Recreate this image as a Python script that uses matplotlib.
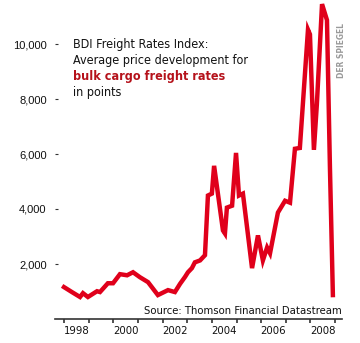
import matplotlib
matplotlib.use("Agg")
import matplotlib.pyplot as plt
from matplotlib import font_manager
from matplotlib.ticker import FixedLocator, FuncFormatter

# Data (year fraction, BDI points)
years = [1998.00, 1998.32, 1998.65, 1998.77, 1998.97, 1999.34, 1999.46, 1999.78,
         1999.99, 2000.27, 2000.56, 2000.80, 2001.08, 2001.41, 2001.81, 2002.22,
         2002.50, 2002.71, 2002.91, 2003.03, 2003.19, 2003.31, 2003.52, 2003.72,
         2003.84, 2004.00, 2004.09, 2004.45, 2004.53, 2004.61, 2004.82, 2004.98,
         2005.10, 2005.26, 2005.63, 2005.87, 2006.07, 2006.24, 2006.36, 2006.68,
         2006.97, 2007.17, 2007.37, 2007.57, 2007.90, 2007.98, 2008.14, 2008.26,
         2008.47, 2008.67, 2008.79, 2008.91]
values = [1160, 980, 800, 940, 800, 1010, 980, 1300,
          1300, 1630, 1590, 1700, 1520, 1340, 870, 1050,
          980, 1280, 1530, 1700, 1850, 2060, 2130, 2320,
          4490, 4560, 5570, 3220, 3110, 4050, 4120, 6040,
          4490, 4560, 1850, 3040, 2130, 2600, 2390, 3870,
          4300, 4230, 6190, 6220, 10520, 10350, 6150, 7810,
          11450, 10870, 5530, 870]

y_ticks = [2000, 4000, 6000, 8000, 10000]
x_tick_years = list(range(1998, 2010))
x_label_years = [1998, 2000, 2002, 2004, 2006, 2008]

title_lines = ["BDI Freight Rates Index:", "Average price development for",
               "bulk cargo freight rates", "in points"]
source_text = "Source: Thomson Financial Datastream"
watermark = "DER SPIEGEL"

# pick a condensed font if one is installed
names = {f.name for f in font_manager.fontManager.ttflist}
if "Liberation Sans Narrow" in names:
    cond = dict(family="Liberation Sans Narrow")
    cond_scale = 1.0
else:
    cond = dict(family="DejaVu Sans", stretch="condensed")
    cond_scale = 0.9

W, H = 360, 343
fig = plt.figure(figsize=(W / 100, H / 100), dpi=100)
ax = fig.add_axes([55 / W, (H - 319) / H, 287 / W, 319 / H])

red = "#e0001b"
dark = "#333333"

ax.plot(years, values, color=red, lw=3.2, solid_joinstyle="miter", clip_on=False, zorder=3)

ax.set_xlim(1997.635, 2009.28)
ax.set_ylim(0, 11600)

for s in ["top", "right", "left"]:
    ax.spines[s].set_visible(False)
ax.spines["bottom"].set_color(dark)
ax.spines["bottom"].set_linewidth(1.2)

ax.yaxis.set_major_locator(FixedLocator(y_ticks))
ax.yaxis.set_major_formatter(FuncFormatter(lambda v, p: f"{int(v):,}"))
ax.tick_params(axis="y", direction="in", length=2.5, width=0.8, color=dark,
               pad=6, labelsize=8, labelcolor="#111111")
for lab in ax.get_yticklabels():
    lab.set_family(["Liberation Sans", "DejaVu Sans"])

ax.xaxis.set_major_locator(FixedLocator(x_tick_years))
ax.xaxis.set_major_formatter(FuncFormatter(lambda v, p: ""))
ax.xaxis.set_minor_locator(FixedLocator([y + 0.5 for y in x_label_years]))
ax.xaxis.set_minor_formatter(FuncFormatter(lambda v, p: f"{int(v)}"))
ax.tick_params(axis="x", which="major", direction="out", length=3, width=1.2, color=dark)
ax.tick_params(axis="x", which="minor", length=0, pad=5, labelcolor="#111111")
for lab in ax.get_xticklabels(minor=True):
    lab.set_fontproperties(font_manager.FontProperties(size=9 * cond_scale, **cond))

baselines = [47.7, 63.7, 79.7, 95.7]
for i, (txt, yb) in enumerate(zip(title_lines, baselines)):
    fig.text(73 / W, 1 - yb / H, txt, ha="left", va="baseline",
             fontproperties=font_manager.FontProperties(
                 size=10 * cond_scale, weight="bold" if i == 2 else "normal", **cond),
             color="#b5121b" if i == 2 else "#111111")

fig.text(342 / W, 1 - 314 / H, source_text, ha="right", va="baseline",
         fontproperties=font_manager.FontProperties(size=9 * cond_scale, **cond),
         color="#111111")

fig.text(342 / W, 1 - 51 / H, watermark, rotation=90, ha="center", va="center",
         fontproperties=font_manager.FontProperties(size=6, weight="bold", **cond),
         color="#9a9a9a")

fig.savefig("out.png", dpi=100)
